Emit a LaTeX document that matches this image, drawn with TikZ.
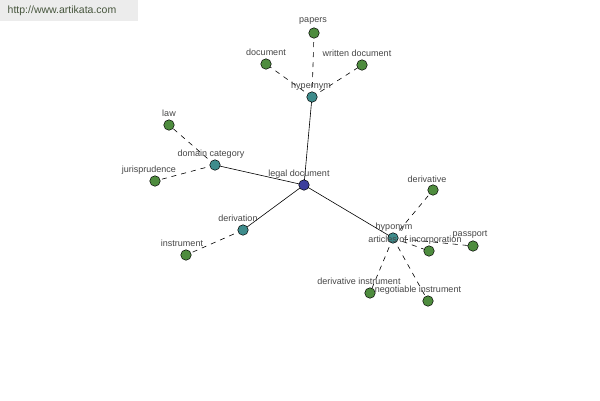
\documentclass[tikz,border=0pt]{standalone}
\usepackage{fontspec}
\setmainfont{Liberation Sans}
\begin{document}
\begin{tikzpicture}[x=1pt,y=-1pt,
  dot/.style={circle,draw=black,line width=0.5pt,minimum size=10.5pt,inner sep=0pt},
  rootdot/.style={dot,fill=rootc},
  reldot/.style={dot,fill=relc},
  leafdot/.style={dot,fill=leafc},
  lbl/.style={font=\fontsize{9}{10}\selectfont,text=labc,inner sep=0pt},
  solidedge/.style={draw=black,line width=0.6pt},
  dashedge/.style={draw=black,line width=0.6pt,dash pattern=on 5pt off 5pt}]
\definecolor{rootc}{RGB}{60,62,156}
\definecolor{relc}{RGB}{62,140,140}
\definecolor{leafc}{RGB}{78,140,62}
\definecolor{labc}{RGB}{70,70,70}
\useasboundingbox[fill=white] (0,0) rectangle (600,400);
\fill[gray!15] (0,0) rectangle (138,21);
\node[font=\fontsize{10.5}{12}\selectfont,text={rgb,255:red,70;green,85;blue,60},inner sep=0pt] (wm) at (62,11) {http://www.artikata.com};

% node positions
\coordinate (pLD) at (304,185);
\coordinate (pHYPER) at (312,97);
\coordinate (pPAP) at (314,33);
\coordinate (pDOC) at (266,64);
\coordinate (pWD) at (362,65);
\coordinate (pDC) at (215,165);
\coordinate (pLAW) at (169,125);
\coordinate (pJUR) at (155,181);
\coordinate (pDER) at (243,230);
\coordinate (pINS) at (186,255);
\coordinate (pHYPO) at (393,238);
\coordinate (pDV) at (433,190);
\coordinate (pAOI) at (429,251);
\coordinate (pPASS) at (473,246);
\coordinate (pDI) at (370,293);
\coordinate (pNI) at (428,301);

% edges
\draw[solidedge] (pLD) -- (pHYPER);
\draw[solidedge] (pLD) -- (pDC);
\draw[solidedge] (pLD) -- (pDER);
\draw[solidedge] (pLD) -- (pHYPO);
\draw[dashedge] (pHYPER) -- (pPAP);
\draw[dashedge] (pHYPER) -- (pDOC);
\draw[dashedge] (pHYPER) -- (pWD);
\draw[dashedge] (pDC) -- (pLAW);
\draw[dashedge] (pDC) -- (pJUR);
\draw[dashedge] (pDER) -- (pINS);
\draw[dashedge] (pHYPO) -- (pDV);
\draw[dashedge] (pHYPO) -- (pAOI);
\draw[dashedge] (pHYPO) -- (pPASS);
\draw[dashedge] (pHYPO) -- (pDI);
\draw[dashedge] (pHYPO) -- (pNI);

% dots
\node[rootdot] (ld) at (pLD) {};
\node[reldot] (hyper) at (pHYPER) {};
\node[leafdot] (pap) at (pPAP) {};
\node[leafdot] (doc) at (pDOC) {};
\node[leafdot] (wd) at (pWD) {};
\node[reldot] (dc) at (pDC) {};
\node[leafdot] (law) at (pLAW) {};
\node[leafdot] (jur) at (pJUR) {};
\node[reldot] (der) at (pDER) {};
\node[leafdot] (ins) at (pINS) {};
\node[reldot] (hypo) at (pHYPO) {};
\node[leafdot] (dv) at (pDV) {};
\node[leafdot] (aoi) at (pAOI) {};
\node[leafdot] (pass) at (pPASS) {};
\node[leafdot] (di) at (pDI) {};
\node[leafdot] (ni) at (pNI) {};

% labels
\node[lbl] (lLD) at (299,174) {legal document};
\node[lbl] (lHYPER) at (311,86) {hypernym};
\node[lbl] (lPAP) at (313,21) {papers};
\node[lbl] (lDOC) at (266,52) {document};
\node[lbl] (lWD) at (357,53) {written document};
\node[lbl] (lDC) at (211,154) {domain category};
\node[lbl] (lLAW) at (169,113) {law};
\node[lbl] (lJUR) at (149,170) {jurisprudence};
\node[lbl] (lDER) at (238,218) {derivation};
\node[lbl] (lINS) at (182,243) {instrument};
\node[lbl] (lHYPO) at (394,227) {hyponym};
\node[lbl] (lDV) at (427,179) {derivative};
\node[lbl] (lAOI) at (415,240) {articles of incorporation};
\node[lbl] (lPASS) at (470,235) {passport};
\node[lbl] (lDI) at (359,281) {derivative instrument};
\node[lbl] (lNI) at (418,290) {negotiable instrument};
\end{tikzpicture}
\end{document}
